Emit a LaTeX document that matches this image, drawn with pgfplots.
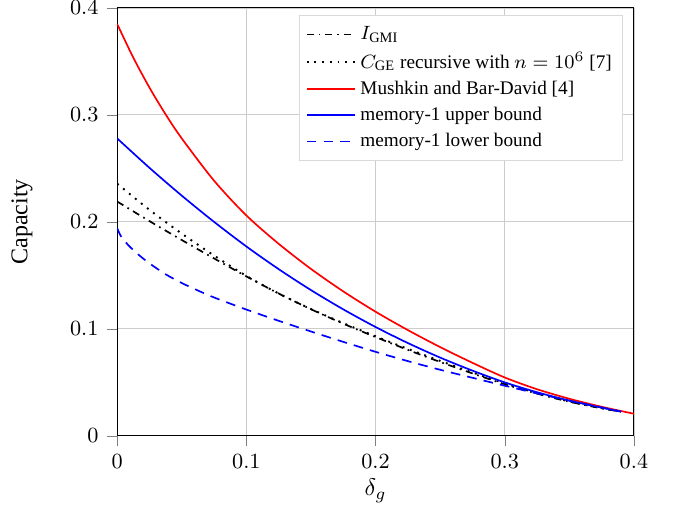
\documentclass[border=0pt]{standalone}
\usepackage{fontspec}
\setmainfont{Liberation Serif}
\usepackage{pgfplots}
\pgfplotsset{compat=1.18}

\begin{document}
\begin{tikzpicture}
\begin{axis}[
    scale only axis,
    width=215pt, height=178pt,
    xmin=0, xmax=0.4, ymin=0, ymax=0.4,
    xtick={0,0.1,0.2,0.3,0.4},
    ytick={0,0.1,0.2,0.3,0.4},
    xtick pos=left, ytick pos=left,
    tick align=outside,
    tick label style={font=\small},
    grid=major, grid style={draw=gray!40, line width=0.5pt},
    xlabel={$\delta_g$},
    ylabel={Capacity},
    xlabel style={at={(axis description cs:0.5,0)}, anchor=center, yshift=-23pt},
    ylabel style={at={(axis description cs:0,0.5)}, anchor=center, yshift=39.6pt},
    legend cell align=left,
    legend style={font=\footnotesize, draw=gray!30, fill=white,
                  at={(0.979,0.984)}, anchor=north east,
                  row sep=-0.2pt, inner sep=2.5pt},
    legend image code/.code={\draw[#1] (0cm,0cm) -- (0.7cm,0cm);},
]
% I_GMI
\addplot[black, smooth, line width=0.7pt, dash pattern=on 3pt off 2pt on 0.7pt off 2pt] coordinates {
 (0,0.219) (0.025,0.2007) (0.05,0.1830) (0.075,0.1658) (0.1,0.1490)
 (0.125,0.1330) (0.15,0.1183) (0.175,0.1048) (0.2,0.0923) (0.225,0.0803)
 (0.25,0.0690) (0.275,0.0583) (0.3,0.0482) (0.325,0.0394) (0.35,0.0318)
 (0.375,0.0256) (0.39,0.0225)};
\addlegendentry{$I_{\mathrm{GMI}}$}
% C_GE recursive
\addplot[black, smooth, line width=0.8pt, dash pattern=on 0.8pt off 2.4pt] coordinates {
 (0,0.2357) (0.025,0.2112) (0.05,0.1890) (0.075,0.1685) (0.1,0.1495)
 (0.125,0.1330) (0.15,0.1185) (0.175,0.1053) (0.2,0.0930) (0.225,0.0812)
 (0.25,0.0700) (0.275,0.0592) (0.3,0.0490) (0.325,0.0399) (0.35,0.0321)
 (0.375,0.0258) (0.39,0.0225)};
\addlegendentry{$C_{\mathrm{GE}}$ recursive with $n=10^6$ [7]}
% Mushkin and Bar-David
\addplot[red, smooth, line width=0.7pt] coordinates {
 (0,0.385) (0.0125,0.3535) (0.025,0.3255) (0.0375,0.3005) (0.05,0.278)
 (0.075,0.2385) (0.1,0.206) (0.125,0.1795) (0.15,0.156) (0.175,0.135)
 (0.2,0.116) (0.225,0.0988) (0.25,0.0829) (0.275,0.0682) (0.3,0.0545)
 (0.325,0.0435) (0.35,0.0346) (0.375,0.0271) (0.4,0.0206)};
\addlegendentry{Mushkin and Bar-David [4]}
% memory-1 upper bound
\addplot[blue, smooth, line width=0.7pt] coordinates {
 (0,0.278) (0.025,0.2505) (0.05,0.2245) (0.075,0.2000) (0.1,0.1770)
 (0.125,0.1558) (0.15,0.1362) (0.175,0.1182) (0.2,0.1017) (0.225,0.0867)
 (0.25,0.0731) (0.275,0.0609) (0.3,0.0499) (0.325,0.0407) (0.35,0.0329)
 (0.375,0.0263) (0.39,0.0225)};
\addlegendentry{memory-1 upper bound}
% memory-1 lower bound
\addplot[blue, smooth, line width=0.7pt, dash pattern=on 4pt off 3pt] coordinates {
 (0,0.194) (0.0025,0.1875) (0.005,0.1832) (0.01,0.1765) (0.0175,0.1683)
 (0.025,0.1612) (0.0375,0.1510) (0.05,0.1428) (0.0625,0.1358) (0.075,0.1293)
 (0.1,0.1180) (0.125,0.1075) (0.15,0.0975) (0.175,0.0878) (0.2,0.0785)
 (0.225,0.0698) (0.25,0.0617) (0.275,0.0542) (0.3,0.0468) (0.325,0.0396)
 (0.35,0.0328) (0.375,0.0264) (0.39,0.0227)};
\addlegendentry{memory-1 lower bound}
\end{axis}
\pgfresetboundingbox
\path[use as bounding box] ([xshift=-48.75pt,yshift=-30.4pt]current axis.south west)
  rectangle ([xshift=17.5pt,yshift=3.3pt]current axis.north east);
\end{tikzpicture}
\end{document}
